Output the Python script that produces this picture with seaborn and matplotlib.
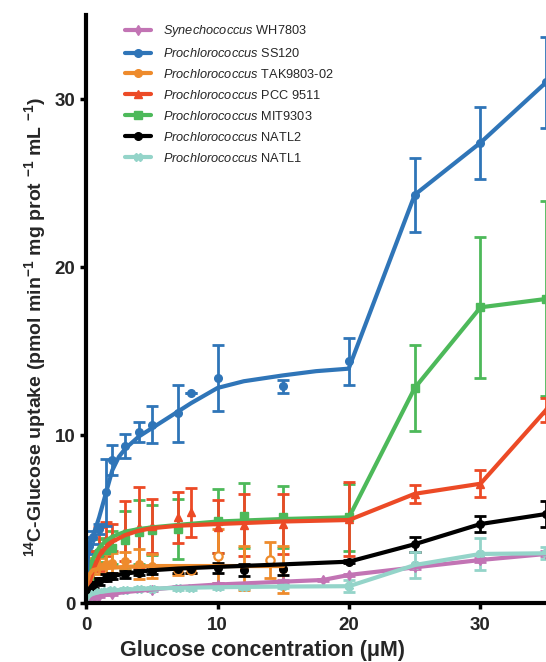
import matplotlib
matplotlib.use("Agg")
import matplotlib.pyplot as plt
import seaborn as sns
import pandas as pd
from matplotlib.lines import Line2D

sns.set_theme(style="white")
plt.rcParams["font.family"] = ["Liberation Sans", "DejaVu Sans"]
plt.rcParams["mathtext.fontset"] = "custom"
plt.rcParams["mathtext.rm"] = "Liberation Sans"
plt.rcParams["mathtext.it"] = "Liberation Sans:italic"
plt.rcParams["mathtext.bf"] = "Liberation Sans:bold"

# ---------------- data ----------------
strains = ["WH7803", "SS120", "TAK9803-02", "PCC 9511", "MIT9303", "NATL2", "NATL1"]
genus = ["Synechococcus"] + ["Prochlorococcus"] * 6
colors = ["#C274B4", "#2F75B8", "#EE8B2C", "#EC4A26", "#4DB95A", "#000000", "#94D4C9"]
markers = ["d", "o", "o", "^", "s", "o", "X"]

# fitted curves (0-20 µM)
wh_fit_x = [0, 0.1, 0.25, 0.5, 1, 2, 3, 5, 7, 10, 13, 15, 18]
wh_fit_y = [0, 0.1, 0.2, 0.3, 0.4, 0.55, 0.65, 0.8, 0.95, 1.1, 1.2, 1.27, 1.37]
ss_fit_x = [0, 0.05, 0.1, 0.2, 0.35, 0.5, 0.75, 1, 1.5, 2, 2.5, 3, 4, 5, 6, 7, 8, 10, 12, 15, 17.5, 20]
ss_fit_y = [0, 1.3, 2.2, 3.3, 3.7, 3.95, 4.5, 5.1, 6.5, 7.9, 8.7, 9.2, 9.9, 10.4, 10.9, 11.4, 11.9, 12.8, 13.2, 13.55, 13.8, 13.95]
tak_fit_x = [0, 0.05, 0.1, 0.25, 0.5, 1, 2, 3, 5, 7, 10, 15]
tak_fit_y = [0, 0.9, 1.3, 1.7, 1.95, 2.05, 2.1, 2.15, 2.2, 2.2, 2.2, 2.2]
pcc_fit_x = [0, 0.1, 0.25, 0.5, 1, 1.5, 2, 3, 4, 5, 7, 10, 15, 20]
pcc_fit_y = [0, 0.5, 1.15, 1.9, 2.8, 3.3, 3.65, 4.05, 4.3, 4.45, 4.6, 4.7, 4.85, 4.94]
mit_fit_x = [0, 0.1, 0.25, 0.5, 1, 1.5, 2, 3, 4, 5, 7, 10, 15, 20]
mit_fit_y = [0, 1.0, 1.8, 2.6, 3.3, 3.7, 3.95, 4.25, 4.4, 4.5, 4.65, 4.85, 5.0, 5.1]
n2_fit_x = [0, 0.1, 0.25, 0.5, 1, 2, 3, 5, 7, 10, 15, 20]
n2_fit_y = [0, 0.55, 0.85, 1.1, 1.35, 1.6, 1.75, 1.95, 2.05, 2.15, 2.3, 2.46]
n1_fit_x = [0, 0.1, 0.25, 0.5, 1, 2, 3, 5, 7, 10, 15, 20]
n1_fit_y = [0, 0.25, 0.42, 0.55, 0.65, 0.75, 0.8, 0.86, 0.9, 0.94, 0.98, 1.0]

# connecting lines above 20 µM
wh_seg_x = [18, 20, 25, 30, 35]
wh_seg_y = [1.37, 1.67, 2.12, 2.56, 2.92]
ss_seg_x = [20, 25, 30, 35]
ss_seg_y = [14.0, 24.3, 27.4, 31.0]
pcc_seg_x = [20, 25, 30, 35]
pcc_seg_y = [4.94, 6.5, 7.1, 11.5]
mit_seg_x = [20, 25, 30, 35]
mit_seg_y = [5.1, 12.8, 17.6, 18.1]
n2_seg_x = [20, 25, 30, 35]
n2_seg_y = [2.46, 3.5, 4.7, 5.3]
n1_seg_x = [20, 25, 30, 35]
n1_seg_y = [1.0, 2.26, 2.92, 2.96]

# measured points (mean, SD)
wh_x = [0.5, 1, 2, 5, 10, 15, 18, 20, 25, 30, 35]
wh_y = [0.3, 0.4, 0.55, 0.8, 1.1, 1.25, 1.37, 1.67, 2.12, 2.56, 2.92]
wh_e = [0.05, 0.05, 0.05, 0.08, 0.1, 0.1, 0.08, 0.08, 0.1, 0.12, 0.15]
ss_x = [0.2, 0.5, 1, 1.5, 2, 3, 4, 5, 7, 8, 10, 15, 20, 25, 30, 35]
ss_y = [3.4, 3.9, 4.4, 6.6, 8.5, 9.35, 10.2, 10.6, 11.3, 12.5, 13.4, 12.9, 14.4, 24.3, 27.4, 31.0]
ss_e = [0.5, 0.4, 0.3, 2.0, 0.9, 0.7, 0.6, 1.1, 1.7, 0.0, 1.95, 0.4, 1.4, 2.2, 2.15, 2.7]
tak_x = [0.1, 0.25, 0.5, 1, 1.5, 2, 3, 4, 5, 7, 8, 10, 12, 14, 15]
tak_y = [1.0, 1.6, 2.0, 2.2, 2.3, 2.4, 2.5, 2.3, 2.2, 1.96, 1.96, 2.8, 2.1, 2.56, 2.0]
tak_e = [0.6, 0.6, 0.7, 0.5, 0.6, 0.6, 0.55, 0.9, 0.7, 0.3, 0.2, 1.6, 1.3, 1.1, 1.4]
tak_open = [False, False, False, False, False, False, False, False, False, True, True, True, False, True, False]
pcc_x = [0.25, 0.5, 1, 1.5, 2, 3, 4, 5, 7, 8, 10, 12, 15, 20, 25, 30, 35]
pcc_y = [1.4, 2.3, 3.2, 3.8, 3.9, 4.3, 4.5, 4.6, 5.1, 5.4, 4.55, 4.65, 4.7, 5.0, 6.5, 7.1, 11.5]
pcc_e = [0.5, 0.8, 1.3, 1.0, 0.8, 1.8, 2.4, 1.6, 1.5, 1.45, 1.6, 1.85, 1.8, 2.2, 0.55, 0.8, 0.7]
mit_x = [0.25, 0.5, 1, 1.5, 2, 3, 4, 5, 7, 10, 12, 15, 20, 25, 30, 35]
mit_y = [1.5, 2.3, 3.0, 3.15, 3.3, 3.75, 4.25, 4.35, 4.4, 4.9, 5.2, 5.1, 5.1, 12.8, 17.6, 18.1]
mit_e = [0.6, 0.8, 0.8, 0.7, 1.0, 1.75, 1.9, 1.5, 1.8, 1.9, 1.95, 1.85, 2.0, 2.55, 4.2, 5.8]
n2_x = [0.25, 0.5, 1, 1.5, 2, 3, 4, 5, 7, 8, 10, 12, 15, 20, 25, 30, 35]
n2_y = [0.8, 1.1, 1.3, 1.5, 1.6, 1.7, 1.8, 1.9, 2.0, 2.0, 2.1, 1.95, 2.0, 2.46, 3.5, 4.7, 5.3]
n2_e = [0.2, 0.2, 0.2, 0.2, 0.2, 0.2, 0.15, 0.15, 0.2, 0.2, 0.3, 0.35, 0.35, 0.1, 0.45, 0.5, 0.8]
n1_x = [0.25, 0.5, 1, 1.5, 2, 3, 4, 5, 7, 8, 10, 12, 15, 20, 25, 30, 35]
n1_y = [0.4, 0.55, 0.65, 0.7, 0.75, 0.8, 0.85, 0.85, 0.9, 0.9, 0.95, 0.95, 1.0, 1.0, 2.26, 2.92, 2.96]
n1_e = [0.1, 0.1, 0.12, 0.1, 0.1, 0.1, 0.1, 0.1, 0.1, 0.1, 0.1, 0.1, 0.1, 0.35, 0.8, 0.95, 0.35]

xticks = [0, 10, 20, 30]
yticks = [0, 10, 20, 30]

fits = [(wh_fit_x, wh_fit_y), (ss_fit_x, ss_fit_y), (tak_fit_x, tak_fit_y), (pcc_fit_x, pcc_fit_y),
        (mit_fit_x, mit_fit_y), (n2_fit_x, n2_fit_y), (n1_fit_x, n1_fit_y)]
segs = [(wh_seg_x, wh_seg_y), (ss_seg_x, ss_seg_y), None, (pcc_seg_x, pcc_seg_y),
        (mit_seg_x, mit_seg_y), (n2_seg_x, n2_seg_y), (n1_seg_x, n1_seg_y)]
pts = [(wh_x, wh_y, wh_e), (ss_x, ss_y, ss_e), (tak_x, tak_y, tak_e), (pcc_x, pcc_y, pcc_e),
       (mit_x, mit_y, mit_e), (n2_x, n2_y, n2_e), (n1_x, n1_y, n1_e)]

# ---------------- figure ----------------
W, H = 546, 662
AXW = 36 * 13.15
AXH = 35 * 16.8
fig = plt.figure(figsize=(W / 100, H / 100), dpi=100)
ax = fig.add_axes([86 / W, 59 / H, AXW / W, AXH / H])

draw_order = [4, 3, 1, 2, 0, 5, 6]
for i in draw_order:
    c = colors[i]
    px, py, pe = pts[i]
    ax.errorbar(px, py, yerr=pe, fmt="none", ecolor=c, elinewidth=2.0,
                capsize=4.5, capthick=2.0, zorder=2)
    if i == 2:
        filled_x = [x for x, o in zip(px, tak_open) if not o]
        filled_y = [y for y, o in zip(py, tak_open) if not o]
        open_x = [x for x, o in zip(px, tak_open) if o]
        open_y = [y for y, o in zip(py, tak_open) if o]
        ax.plot(filled_x, filled_y, ls="none", marker="o", ms=5.5, color=c, zorder=3)
        ax.plot(open_x, open_y, ls="none", marker="o", ms=6, mfc="white", mec=c, mew=1.6, zorder=3)
    else:
        ax.plot(px, py, ls="none", marker=markers[i], ms=5.5, color=c, zorder=3)
    fx, fy = fits[i]
    sns.lineplot(x=fx, y=fy, ax=ax, color=c, linewidth=3.0, zorder=4, sort=False)
    if segs[i] is not None:
        sx, sy = segs[i]
        sns.lineplot(x=sx, y=sy, ax=ax, color=c, linewidth=3.0, zorder=4, sort=False)

ax.set_xlim(0, 36)
ax.set_ylim(0, 35)
ax.set_xticks(xticks)
ax.set_yticks(yticks)
for s in ["top", "right"]:
    ax.spines[s].set_visible(False)
for s in ["left", "bottom"]:
    ax.spines[s].set_linewidth(3.0)
    ax.spines[s].set_color("black")
    ax.spines[s].set_zorder(5)
ax.tick_params(axis="both", direction="out", length=4, width=2.5, color="black",
               labelsize=13.5, pad=3.5, bottom=True, left=True)
ax.tick_params(axis="x", pad=6)
for lab in ax.get_xticklabels() + ax.get_yticklabels():
    lab.set_fontweight("bold")

ax.set_xlabel("Glucose concentration (\u03bcM)", fontsize=15.5, fontweight="bold")
ax.xaxis.set_label_coords((263 - 86) / AXW, -(661 - 603) / AXH)
ax.xaxis.label.set_va("bottom")
ax.set_ylabel(r"$^{\mathbf{14}}$C-Glucose uptake (pmol min$^{\mathbf{-1}}$ mg prot $^{\mathbf{-1}}$ mL $^{\mathbf{-1}}$)",
              fontsize=14, fontweight="bold")
ax.yaxis.set_label_coords(-38 / AXW, 0.47)

handles = []
labels = []
for i in range(7):
    handles.append(Line2D([0], [0], color=colors[i], lw=3.0, marker=markers[i], ms=5.5))
    labels.append(r"$\it{" + genus[i] + "}$ " + strains[i])
leg = fig.legend(handles, labels, loc="upper left", bbox_to_anchor=(120 / W, 1 - 18 / H),
                 frameon=False, fontsize=9.2, handlelength=2.0, handletextpad=0.95,
                 labelspacing=0.62, borderaxespad=0)

fig.savefig("out.png", dpi=100)
